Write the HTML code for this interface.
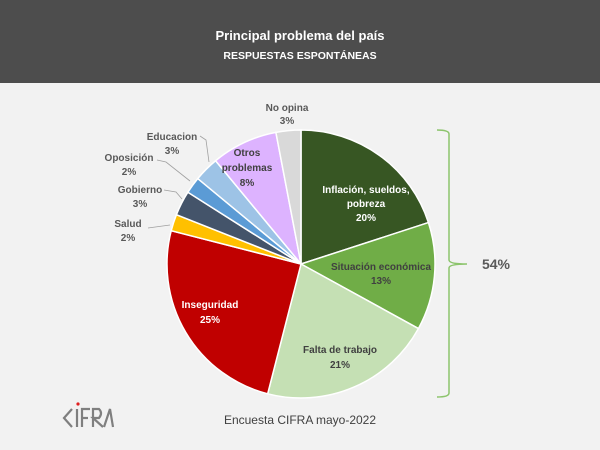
<!DOCTYPE html>
<html><head><meta charset="utf-8"><style>
html,body{margin:0;padding:0;width:600px;height:450px;overflow:hidden;background:#f2f2f2;font-family:"Liberation Sans",sans-serif}
</style></head><body>
<svg id="s" width="600" height="450" xmlns="http://www.w3.org/2000/svg" style="position:absolute;left:0;top:0">
<rect x="0" y="0" width="600" height="83" fill="#4d4d4d"/>
<text x="300" y="40" text-anchor="middle" fill="#fff" font-size="13" font-weight="bold">Principal problema del país</text>
<text x="300" y="59" text-anchor="middle" fill="#fff" font-size="10.5" font-weight="bold">RESPUESTAS ESPONTÁNEAS</text>
<g id="pie"></g>
<g fill="none" stroke="#a0a0a0" stroke-width="0.8">
<polyline points="148,228 170,225"/>
<polyline points="164,190 176,192 182,199"/>
<polyline points="157,160 166,162 190,181"/>
<polyline points="200,136 206,140 209,162"/>
</g>
<g font-size="10" font-weight="bold" fill="#595959" text-anchor="middle">
<text x="287" y="111">No opina</text><text x="287" y="124">3%</text>
<text x="172" y="140">Educacion</text><text x="172" y="154">3%</text>
<text x="129" y="161">Oposición</text><text x="129" y="175">2%</text>
<text x="140" y="193">Gobierno</text><text x="140" y="207">3%</text>
<text x="128" y="227">Salud</text><text x="128" y="241">2%</text>
</g>
<g font-size="10" font-weight="bold" text-anchor="middle">
<text x="247" y="156" fill="#404040">Otros</text><text x="247" y="171" fill="#404040">problemas</text><text x="247" y="186" fill="#404040">8%</text>
<text x="366" y="193" fill="#fff">Inflación, sueldos,</text><text x="366" y="207" fill="#fff">pobreza</text><text x="366" y="221" fill="#fff">20%</text>
<text x="381" y="270" fill="#404040">Situación económica</text><text x="381" y="284" fill="#404040">13%</text>
<text x="340" y="353" fill="#404040">Falta de trabajo</text><text x="340" y="368" fill="#404040">21%</text>
<text x="210" y="308" fill="#fff">Inseguridad</text><text x="210" y="323" fill="#fff">25%</text>
</g>
<path d="M437,130 Q449,130 449,134 L449,260 Q449,264 467,264 Q449,264 449,268 L449,393 Q449,397 437,397" fill="none" stroke="#8cc46c" stroke-width="1.5"/>
<text x="496" y="269" text-anchor="middle" font-size="14" font-weight="bold" fill="#595959">54%</text>
<text x="300" y="424" text-anchor="middle" font-size="12" fill="#404040">Encuesta CIFRA mayo-2022</text>
<g fill="none" stroke="#7f7f7f" stroke-width="2.2">
<polyline points="72,409 64,418 72,427"/>
<line x1="77" y1="409" x2="77" y2="427"/>
<polyline points="90,409 82,409 82,427"/><line x1="82" y1="418" x2="88" y2="418"/>
<path d="M93,427 L93,409 L99,409 Q103,413 99,418 L93,418 L103,427"/>
<path d="M104,427 L110,409 L113,427"/>
</g>
<circle cx="78" cy="404" r="1.6" fill="#e02020"/>
</svg>
<script>
var d=[[20,"#375623"],[13,"#70ad47"],[21,"#c5e0b4"],[25,"#c00000"],[2,"#ffc000"],[3,"#44546a"],[2,"#5b9bd5"],[3,"#9dc3e6"],[8,"#ddb3ff"],[3,"#d9d9d9"]];
var cx=301,cy=264,r=134,a=0,g=document.getElementById("pie"),h="";
d.forEach(function(e){var b=a+e[0]/100*2*Math.PI;
var x1=cx+r*Math.sin(a),y1=cy-r*Math.cos(a),x2=cx+r*Math.sin(b),y2=cy-r*Math.cos(b);
h+='<path d="M'+cx+','+cy+' L'+x1+','+y1+' A'+r+','+r+' 0 '+(b-a>Math.PI?1:0)+' 1 '+x2+','+y2+' Z" fill="'+e[1]+'" stroke="#fff" stroke-width="1.5"/>';a=b;});
g.innerHTML=h;
</script>
</body></html>
